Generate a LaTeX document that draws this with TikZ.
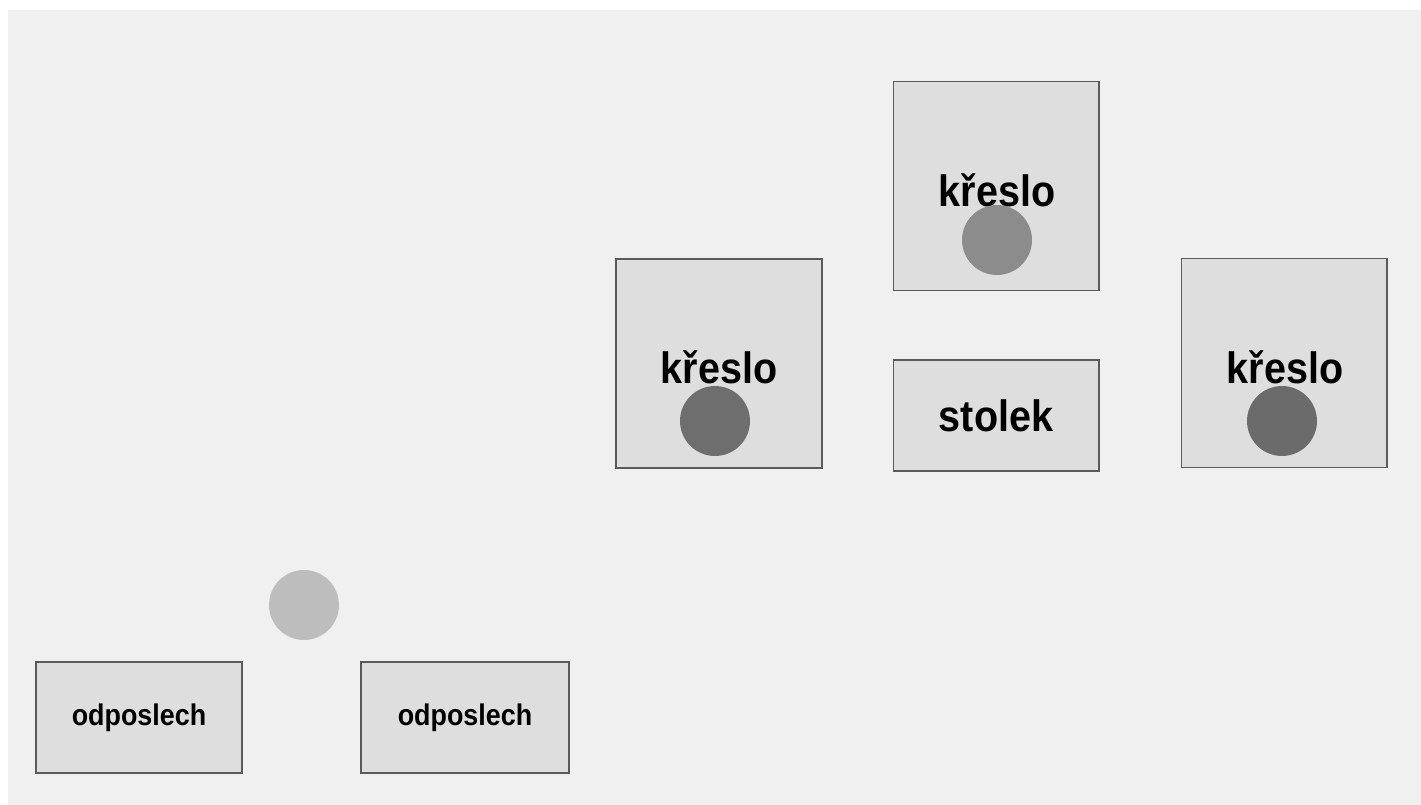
\documentclass[tikz,border=0pt]{standalone}
\usepackage{fontspec}
\setmainfont{Liberation Sans}[FakeStretch=0.9]
\usepackage{tikz}
\usetikzlibrary{positioning}

\definecolor{paper}{HTML}{F0F0F0}
\definecolor{boxfill}{HTML}{DEDEDE}
\definecolor{boxline}{HTML}{5A5A5A}

\begin{document}
\begin{tikzpicture}[x=0.02cm, y=-0.02cm]
	\tikzstyle{room} = [draw=boxline, fill=boxfill, line width=0.6pt, minimum width=4.12cm, inner sep=0pt]
	\tikzstyle{chair} = [room, minimum height=4.18cm]
	\tikzstyle{low} = [room, minimum height=2.22cm]
	\tikzstyle{label} = [font=\bfseries\fontsize{25}{27}\selectfont, inner sep=0pt]
	\tikzstyle{person} = [circle, minimum size=1.4cm, inner sep=0pt]

	% page and background
	\useasboundingbox (0,0) rectangle (1421,805);
	\fill[white] (0,0) rectangle (1421,805);
	\fill[paper] (8,10) rectangle (1421,805);

	% chairs and table
	\node[chair](chairtop) at (996,186) {};
	\node[chair](chairleft) at (719,363.5) {};
	\node[chair](chairright) at (1284,363) {};
	\node[low, label](table) at (996,415.5) {stolek};

	\node[label](chairtoptext) at (997,190) {křeslo};
	\node[label](chairlefttext) at (719,367) {křeslo};
	\node[label](chairrighttext) at (1285,367) {křeslo};

	% people
	\node[person, fill=black!45](persontop) at (997,240) {};
	\node[person, fill=black!57](personleft) at (715,421) {};
	\node[person, fill=black!58](personright) at (1282,421) {};
	\node[person, fill=black!26](personlone) at (304,605) {};

	% listeners
	\node[low, font=\bfseries\fontsize{17}{19}\selectfont](listenleft) at (139,717.5) {odposlech};
	\node[low, minimum width=4.16cm, font=\bfseries\fontsize{17}{19}\selectfont](listenright) at (465,717.5) {odposlech};
\end{tikzpicture}
\end{document}
